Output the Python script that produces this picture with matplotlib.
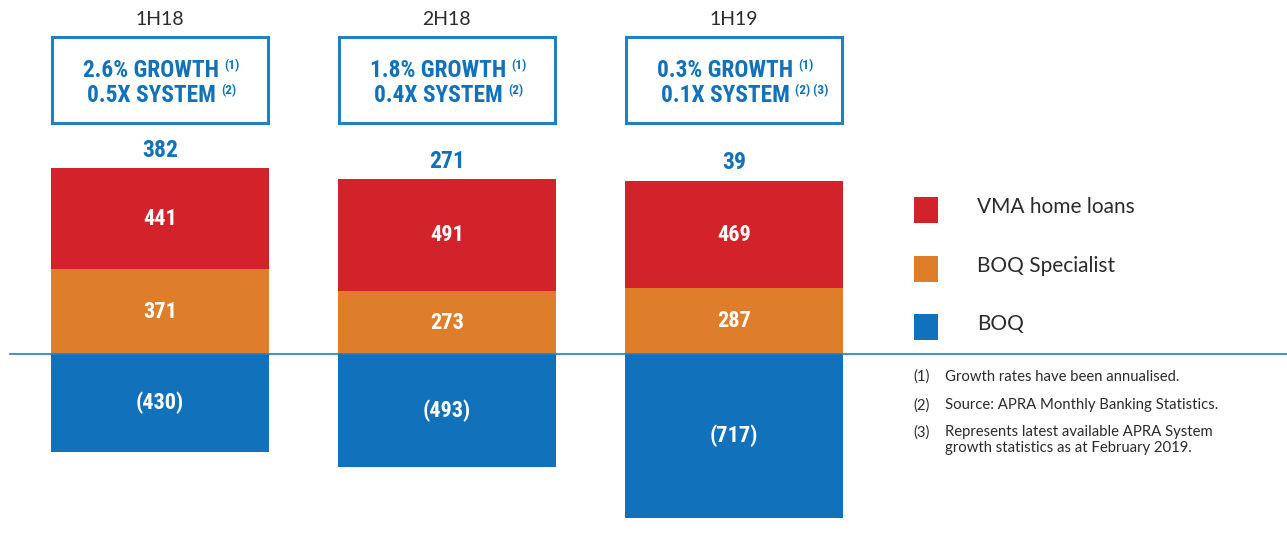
import matplotlib.pyplot as plt
from matplotlib import font_manager
import numpy as np

# Данные
periods = ['1H18', '2H18', '1H19']
vma = [441, 491, 469]
specialist = [371, 273, 287]
boq = [-430, -493, -717]
growth_lines = [
    [('2.6% GROWTH', '(1)'), ('0.5X SYSTEM', '(2)')],
    [('1.8% GROWTH', '(1)'), ('0.4X SYSTEM', '(2)')],
    [('0.3% GROWTH', '(1)'), ('0.1X SYSTEM', '(2) (3)')],
]
legend_labels = ['VMA home loans', 'BOQ Specialist', 'BOQ']
footnotes = [
    ('(1)', 'Growth rates have been annualised.'),
    ('(2)', 'Source: APRA Monthly Banking Statistics.'),
    ('(3)', 'Represents latest available APRA System\ngrowth statistics as at February 2019.'),
]

RED = '#D2232A'
ORANGE = '#DE7D2A'
BLUE = '#1172BB'
GREY = '#2b2b2b'

# Узкий шрифт, если есть
names = {f.name for f in font_manager.fontManager.ttflist}
cond = next((n for n in ['Roboto Condensed', 'Liberation Sans Narrow',
                         'Open Sans Condensed', 'Roboto'] if n in names), 'DejaVu Sans')
COND = [cond, 'DejaVu Sans']
BODY = ['Lato', 'DejaVu Sans']

W, H = 1287, 558
fig = plt.figure(figsize=(W / 100, H / 100), dpi=100)
ax = fig.add_axes([0, 0, 1, 1])
ax.set_xlim(-0.557, 3.927)
ax.set_ylim(-891, 1546)
ax.axis('off')

x = np.arange(len(periods))
bw = 0.76
vma = np.array(vma)
specialist = np.array(specialist)
boq = np.array(boq)

ax.bar(x, specialist, bw, color=ORANGE)
ax.bar(x, vma, bw, bottom=specialist, color=RED)
ax.bar(x, boq, bw, color=BLUE)
ax.plot([0.0078, 1.0], [0, 0], transform=ax.get_yaxis_transform(),
        color='#1f80c6', lw=1.2)

lab = dict(color='white', fontsize=16, fontweight='bold', family=COND,
           ha='center', va='center')
for i in range(len(x)):
    ax.text(x[i], specialist[i] + vma[i] / 2, f'{vma[i]}', **lab)
    ax.text(x[i], specialist[i] / 2, f'{specialist[i]}', **lab)
    ax.text(x[i], boq[i] / 2, f'({-boq[i]})', **lab)
    net = vma[i] + specialist[i] + boq[i]
    ax.text(x[i], vma[i] + specialist[i] + 28, f'{net}', color=BLUE,
            fontsize=17, fontweight='bold', family=COND, ha='center', va='bottom')

# Рамки с ростом
fig.canvas.draw()
rend = fig.canvas.get_renderer()
for i, p in enumerate(periods):
    ax.text(x[i], 1459, p, color=GREY, fontsize=14, family=BODY,
            ha='center', va='center')
    ax.bar(x[i], 375, 0.75, bottom=1009, fill=False, edgecolor='#1f80c6', lw=2.2)
    for j, (main, sup) in enumerate(growth_lines[i]):
        yy = 1236 - j * 109
        t = ax.text(x[i] - 0.03, yy, main, color=BLUE, fontsize=16.8,
                    fontweight='bold', family=COND, ha='center', va='center')
        bb = t.get_window_extent(rend)
        xr = ax.transData.inverted().transform((bb.x1, bb.y1))[0]
        ax.text(xr + 0.018, yy + 22, sup, color=BLUE, fontsize=9.5,
                fontweight='bold', family=COND, ha='left', va='center')

# Легенда
sq_y = [629, 371, 118]
for lbl, col, yy in zip(legend_labels, [RED, ORANGE, BLUE], sq_y):
    ax.bar(2.67, 114, 0.084, bottom=yy - 57, color=col)
    ax.text(2.848, yy + 12, lbl, color=GREY, fontsize=15, family=BODY,
            ha='left', va='center')

# Сноски
ys = [-100, -223, -310]
for (num, txt), yy in zip(footnotes, ys):
    va = 'top' if '\n' in txt else 'center'
    ax.text(2.625, yy, num, color=GREY, fontsize=10.7, family=BODY, ha='left', va=va)
    ax.text(2.737, yy, txt, color=GREY, fontsize=10.7, family=BODY,
            ha='left', va=va, linespacing=1.2)

fig.savefig('out.png', dpi=100)
